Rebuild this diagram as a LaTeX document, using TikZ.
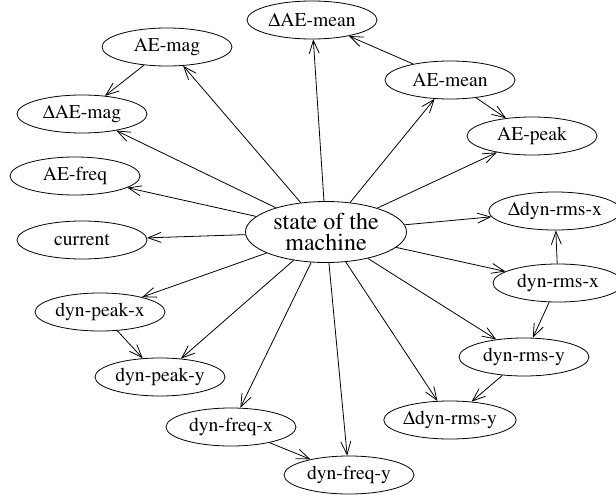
\documentclass[tikz,border=0pt]{standalone}
\usepackage[T1]{fontenc}
\usepackage{mathptmx}
\usetikzlibrary{shapes.geometric,arrows.meta}
\newcommand{\dlt}{$\Delta$}
\begin{document}
\begin{tikzpicture}[x=1pt,y=-1pt,
  nd/.style={draw,ellipse,inner sep=0pt,minimum width=130pt,minimum height=38pt,line width=0.8pt,font=\fontsize{19.6}{20}\selectfont},
  hub/.style={draw,ellipse,inner sep=0pt,minimum width=161pt,minimum height=61pt,line width=0.8pt,align=center,font=\fontsize{24}{21}\selectfont},
  ar/.style={line width=0.8pt,-{Straight Barb[length=13pt,width=10pt,line width=0.8pt]}}]
\useasboundingbox (0,0) rectangle (616,495);
\begin{scope}
\clip (0,0) rectangle (616,495);
\node[hub] (c) at (326,232) {state of the\\machine};
\node[nd] (dAEmean) at (312,20) {\dlt AE-mean};
\node[nd] (AEmag) at (167,47) {AE-mag};
\node[nd] (AEmean) at (450,80) {AE-mean};
\node[nd] (dAEmag) at (82,114) {\dlt AE-mag};
\node[nd] (AEpeak) at (532,136) {AE-peak};
\node[nd] (AEfreq) at (75,176) {AE-freq};
\node[nd] (ddrx) at (555,211) {\dlt dyn-rms-x};
\node[nd] (cur) at (82,240) {current};
\node[nd] (drx) at (558,283) {dyn-rms-x};
\node[nd] (dpx) at (100,312) {dyn-peak-x};
\node[nd] (dry) at (524,357) {dyn-rms-y};
\node[nd] (dpy) at (160,377) {dyn-peak-y};
\node[nd] (ddry) at (450,420) {\dlt dyn-rms-y};
\node[nd] (dfx) at (231,427) {dyn-freq-x};
\node[nd] (dfy) at (349,475) {dyn-freq-y};

\draw[ar] (c) -- (dAEmean);
\draw[ar] (c) -- (AEmag);
\draw[ar] (c) -- (AEmean);
\draw[ar] (c) -- (dAEmag);
\draw[ar] (c) -- (AEpeak);
\draw[ar] (c) -- (AEfreq);
\draw[ar] (c) -- (ddrx);
\draw[ar] (c) -- (cur);
\draw[ar] (c) -- (drx);
\draw[ar] (c) -- (dpx);
\draw[ar] (c) -- (dry);
\draw[ar] (c) -- (dpy);
\draw[ar] (c) -- (ddry);
\draw[ar] (c) -- (dfx);
\draw[ar] (c) -- (dfy);

\draw[ar] (AEmag) -- (dAEmag);
\draw[ar] (AEmean) -- (dAEmean);
\draw[ar] (AEmean) -- (AEpeak);
\draw[ar] (drx) -- (ddrx);
\draw[ar] (drx) -- (dry);
\draw[ar] (dry) -- (ddry);
\draw[ar] (dpx) -- (dpy);
\draw[ar] (dfx) -- (dfy);
\end{scope}
\end{tikzpicture}
\end{document}
